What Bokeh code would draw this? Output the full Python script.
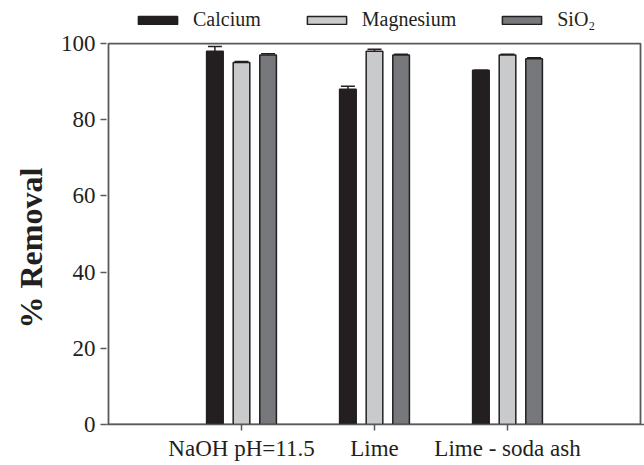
from bokeh.plotting import figure
from bokeh.models import (ColumnDataSource, FixedTicker, Legend, LegendItem,
                          Whisker, TeeHead, Range1d, Title)
from bokeh.embed import file_html
from bokeh.resources import INLINE

# Treatments and % removal for each species
treatments = ["NaOH pH=11.5", "Lime", "Lime - soda ash"]
calcium = [98, 88, 93]
calcium_err = [1.2, 0.8, 0.0]
magnesium = [95, 98, 97]
magnesium_err = [0.3, 0.5, 0.2]
sio2 = [97, 97, 96]
sio2_err = [0.3, 0.2, 0.3]
y_ticks = [0, 20, 40, 60, 80, 100]
x_limits = (0, 4)
y_limits = (0, 100)

series = [
    ("Calcium", calcium, calcium_err, "#231f20", -0.2),
    ("Magnesium", magnesium, magnesium_err, "#c9cacb", 0.0),
    ("SiO\u2082", sio2, sio2_err, "#77787b", 0.2),
]

SERIF = "Liberation Serif"
EDGE = "#231f20"
FRAME = "#58595b"

# the plotting area reaches up to the top of the page so the key can sit
# above the 0-100 box
p = figure(width=644, height=465, output_backend="svg", toolbar_location=None,
           x_range=Range1d(-0.015, 4.03), y_range=Range1d(0, 111.3),
           min_border_left=106, min_border_right=0,
           min_border_top=0, min_border_bottom=41)

p.xgrid.visible = False
p.ygrid.visible = False
p.outline_line_color = None
p.background_fill_color = "white"
p.border_fill_color = "white"

# closed box around the 0-100 data area
x0, x1 = x_limits
y0, y1 = y_limits
p.line(x=[x0, x0, x1, x1, x0], y=[y0, y1, y1, y0, y0],
       line_color=FRAME, line_width=1.8)

pos = list(range(1, len(treatments) + 1))
items = []
for name, vals, errs, color, off in series:
    src = ColumnDataSource(dict(
        x=[v + off for v in pos], top=vals,
        lower=vals, upper=[v + e for v, e in zip(vals, errs)],
    ))
    r = p.vbar(x="x", top="top", bottom=0, width=0.125, source=src,
               fill_color=color, line_color=EDGE, line_width=1.5)
    w = Whisker(source=src, base="x", lower="lower", upper="upper",
                line_color=EDGE, line_width=1.5,
                upper_head=TeeHead(size=14, line_color=EDGE, line_width=1.5),
                lower_head=None)
    p.add_layout(w)
    items.append(LegendItem(label=name, renderers=[r]))

legend = Legend(items=items, orientation="horizontal",
                location=(27, 393), padding=0, margin=0, spacing=41,
                glyph_width=49, glyph_height=10, label_standoff=11,
                label_text_font=SERIF, label_text_font_size="20px",
                label_text_color="#231f20", label_height=20,
                border_line_color=None, background_fill_alpha=0)
p.add_layout(legend, "center")

# axes
p.xaxis.ticker = FixedTicker(ticks=pos)
p.xaxis.major_label_overrides = {i: t for i, t in zip(pos, treatments)}
p.yaxis.ticker = FixedTicker(ticks=y_ticks)
for ax in (p.xaxis[0], p.yaxis[0]):
    ax.axis_line_color = FRAME
    ax.axis_line_width = 1.5
    ax.major_tick_line_color = FRAME
    ax.major_tick_line_width = 1.5
    ax.major_tick_in = 0
    ax.major_tick_out = 6
    ax.minor_tick_line_color = None
    ax.major_label_text_font = SERIF
    ax.major_label_text_font_size = "23px"
    ax.major_label_text_color = "#231f20"
    ax.major_label_standoff = 5
p.yaxis.axis_line_color = None

# y-axis title, centred on the 0-100 box rather than the whole plot area
p.add_layout(Title(text="% Removal", align="left", offset=96,
                   text_font=SERIF, text_font_style="bold",
                   text_font_size="32px", text_color="#231f20",
                   standoff=18), "left")

open("out.html", "w").write(file_html(p, INLINE))
